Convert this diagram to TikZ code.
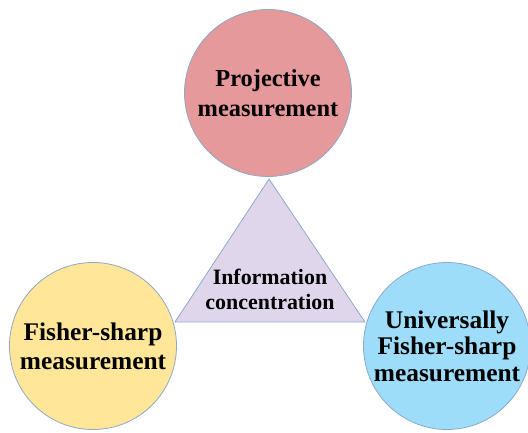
\documentclass[tikz,border=0pt]{standalone}
\usepackage{fontspec}
\setmainfont{Liberation Serif}
\usepackage{tikz}
\definecolor{projred}{HTML}{E6999B}
\definecolor{fishyellow}{HTML}{FFE699}
\definecolor{univblue}{HTML}{9DDDF9}
\definecolor{infolilac}{HTML}{E0D6EC}
\definecolor{rimblue}{HTML}{8EA8C8}

\begin{document}
\begin{tikzpicture}[x=1bp, y=-1bp,
  bubble/.style={circle, draw=rimblue, line width=0.8bp, minimum size=167bp, inner sep=0pt,
                 align=center, font=\bfseries\fontsize{25.5}{29}\selectfont}]

\useasboundingbox (0,0) rectangle (528,432);

% the three measurements
  \node [bubble, fill=projred, font=\bfseries\fontsize{24.5}{30}\selectfont] (proj) at (268,93){Projective\\measurement};
  \node [bubble, fill=fishyellow] (fish) at (93,346){Fisher-sharp\\measurement};
  \node [bubble, fill=univblue, font=\bfseries\fontsize{25.5}{26.5}\selectfont] (univ) at (447,346){Universally\\Fisher-sharp\\measurement};

% triangle in the middle
  \coordinate (top) at (269,179);
  \coordinate (bl) at (175,322);
  \coordinate (br) at (365,322);
  \draw [draw=rimblue, line width=0.8bp, fill=infolilac, line join=round] (top) -- (bl) -- (br) -- cycle;

  \node [align=center, font=\bfseries\fontsize{22}{25}\selectfont] (info) at (270,289){Information\\concentration};

\end{tikzpicture}
\end{document}
